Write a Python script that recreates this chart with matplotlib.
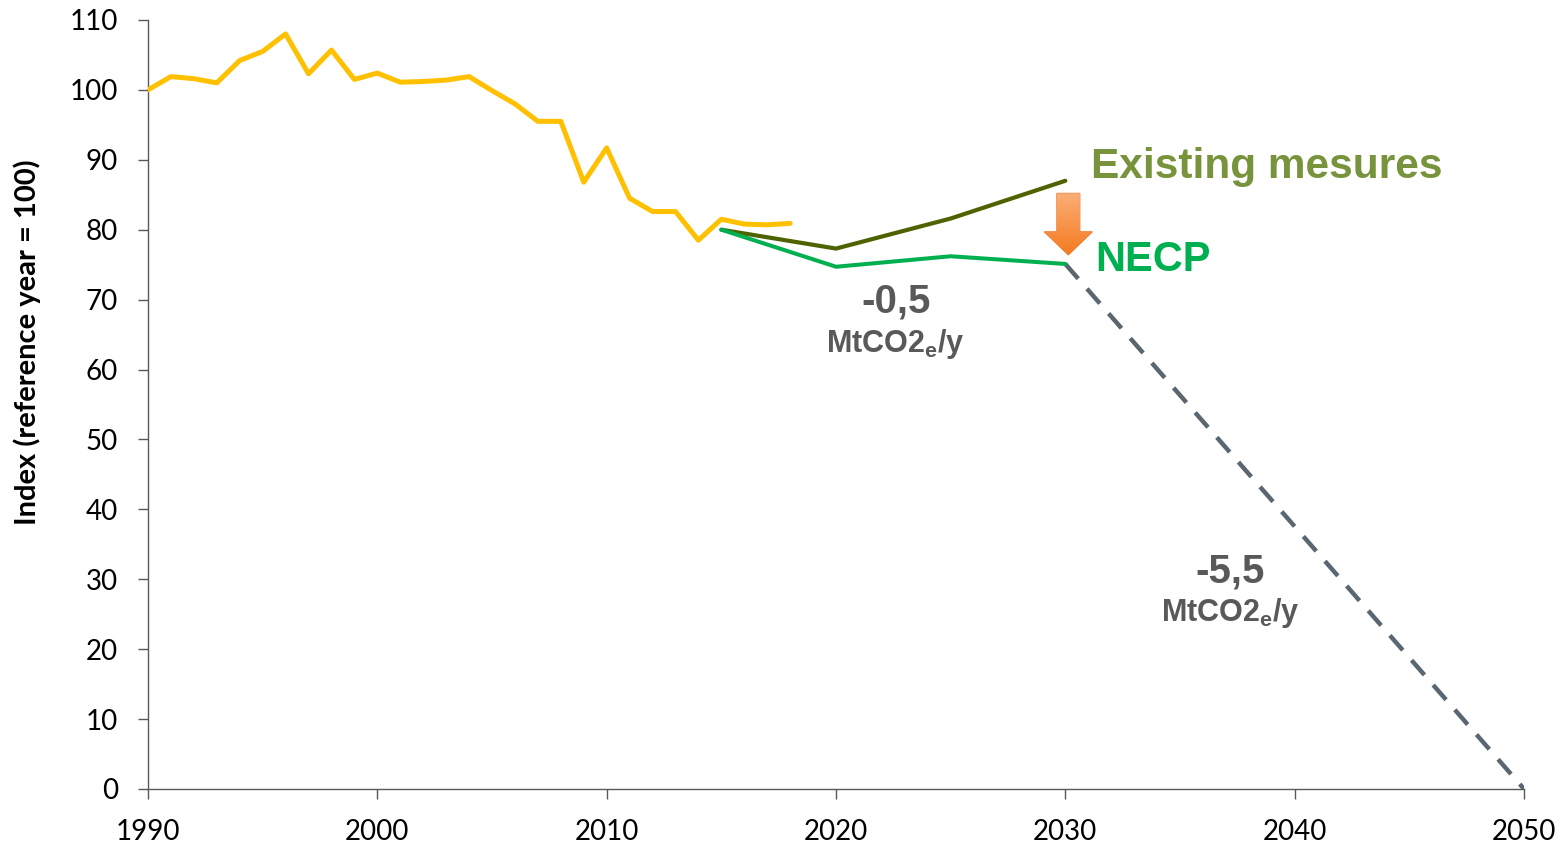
import numpy as np
import matplotlib
matplotlib.use("Agg")
import matplotlib.pyplot as plt
from matplotlib.patches import Polygon

# Historical emissions index (reference year = 100)
hist_years = list(range(1990, 2019))
hist_values = [100.0, 101.9, 101.6, 101.0, 104.2, 105.5, 108.0, 102.3, 105.7, 101.5,
               102.4, 101.1, 101.2, 101.4, 101.9, 99.9, 98.0, 95.5, 95.5, 86.8,
               91.7, 84.5, 82.6, 82.6, 78.5, 81.5, 80.8, 80.7, 80.9]

# Projections
proj_years = [2015, 2020, 2025, 2030]
existing_values = [80.0, 77.3, 81.6, 87.0]
necp_values = [80.0, 74.7, 76.2, 75.1]

# Trajectory to neutrality
neutral_years = [2030, 2050]
neutral_values = [necp_values[-1], 0.0]

x_ticks = [1990, 2000, 2010, 2020, 2030, 2040, 2050]
y_ticks = list(range(0, 111, 10))

YELLOW = "#FFC000"
OLIVE_LINE = "#4F6200"
OLIVE_TEXT = "#77933C"
GREEN = "#00B050"
SLATE = "#5A6670"
GREY_TEXT = "#595959"
AXIS = "#595959"

plt.rcParams["mathtext.fontset"] = "custom"
plt.rcParams["mathtext.rm"] = "Liberation Sans:bold"
plt.rcParams["mathtext.it"] = "Liberation Sans:bold"
plt.rcParams["mathtext.bf"] = "Liberation Sans:bold"

fig = plt.figure(figsize=(15.66, 8.46), dpi=100)
ax = fig.add_axes([0.0945, 0.0674, 0.8787, 0.909])

ax.plot(hist_years, hist_values, color=YELLOW, lw=3.6, solid_joinstyle="round",
        solid_capstyle="round", zorder=3)
ax.plot(proj_years, existing_values, color=OLIVE_LINE, lw=3.0, solid_joinstyle="round",
        solid_capstyle="round", zorder=4)
ax.plot(proj_years, necp_values, color=GREEN, lw=2.9, solid_joinstyle="round",
        solid_capstyle="round", zorder=5)
ax.plot(neutral_years, neutral_values, color=SLATE, lw=3.2, linestyle=(0, (4.4, 3.0)),
        dash_capstyle="butt", zorder=4)

# Downward arrow between the two 2030 projections, filled with an orange gradient
cx = proj_years[-1] + 0.13
top = existing_values[-1] - 1.8
tip = necp_values[-1] + 1.3
head_base = tip + 3.3
shaft_hw, head_hw = 0.5, 1.05
arrow_pts = [(cx - shaft_hw, top), (cx + shaft_hw, top), (cx + shaft_hw, head_base),
             (cx + head_hw, head_base), (cx, tip), (cx - head_hw, head_base),
             (cx - shaft_hw, head_base)]
arrow = Polygon(arrow_pts, closed=True, facecolor="none", edgecolor="#E8732A",
                lw=0.8, zorder=6)
ax.add_patch(arrow)
grad = np.linspace(0, 1, 256).reshape(-1, 1)
cmap = matplotlib.colors.LinearSegmentedColormap.from_list("org", ["#FBAE78", "#F47A1F"])
img = ax.imshow(grad, cmap=cmap, aspect="auto", origin="upper",
                extent=[cx - head_hw, cx + head_hw, tip, top], zorder=6)
img.set_clip_path(arrow)

# Labels
ax.text(2031.1, 89.0, "Existing mesures", color=OLIVE_TEXT, fontsize=30.5,
        fontweight="bold", family="Liberation Sans", ha="left", va="center")
ax.text(2031.3, 75.6, "NECP", color=GREEN, fontsize=30,
        fontweight="bold", family="Liberation Sans", ha="left", va="center")

ax.text(2022.6, 68.1, "-0,5", color=GREY_TEXT, fontsize=29, fontweight="bold",
        family="Liberation Sans", ha="center", va="baseline")
ax.text(2022.6, 62.5, r"MtCO2$_{\mathrm{e}}$/y", color=GREY_TEXT, fontsize=22,
        fontweight="bold", family="Liberation Sans", ha="center", va="baseline")
ax.text(2037.2, 29.6, "-5,5", color=GREY_TEXT, fontsize=29, fontweight="bold",
        family="Liberation Sans", ha="center", va="baseline")
ax.text(2037.2, 24.0, r"MtCO2$_{\mathrm{e}}$/y", color=GREY_TEXT, fontsize=22,
        fontweight="bold", family="Liberation Sans", ha="center", va="baseline")

ax.set_xlim(1990, 2050)
ax.set_ylim(0, 110)
ax.set_xticks(x_ticks)
ax.set_yticks(y_ticks)
ax.set_xticklabels([str(v) for v in x_ticks], family="Lato", fontsize=20)
ax.set_yticklabels([str(v) for v in y_ticks], family="Lato", fontsize=20)
ax.tick_params(axis="both", direction="out", length=7.5, width=1.0, color=AXIS,
               labelcolor="black")
ax.tick_params(axis="x", pad=14)
ax.tick_params(axis="y", pad=14)

for side in ("top", "right"):
    ax.spines[side].set_visible(False)
for side in ("left", "bottom"):
    ax.spines[side].set_color(AXIS)
    ax.spines[side].set_linewidth(1.0)

ax.set_ylabel("Index (reference year = 100)", family="Lato", fontweight="bold",
              fontsize=21)
ax.yaxis.set_label_coords(-0.0777, 0.581)

fig.savefig("out.png", dpi=100)
